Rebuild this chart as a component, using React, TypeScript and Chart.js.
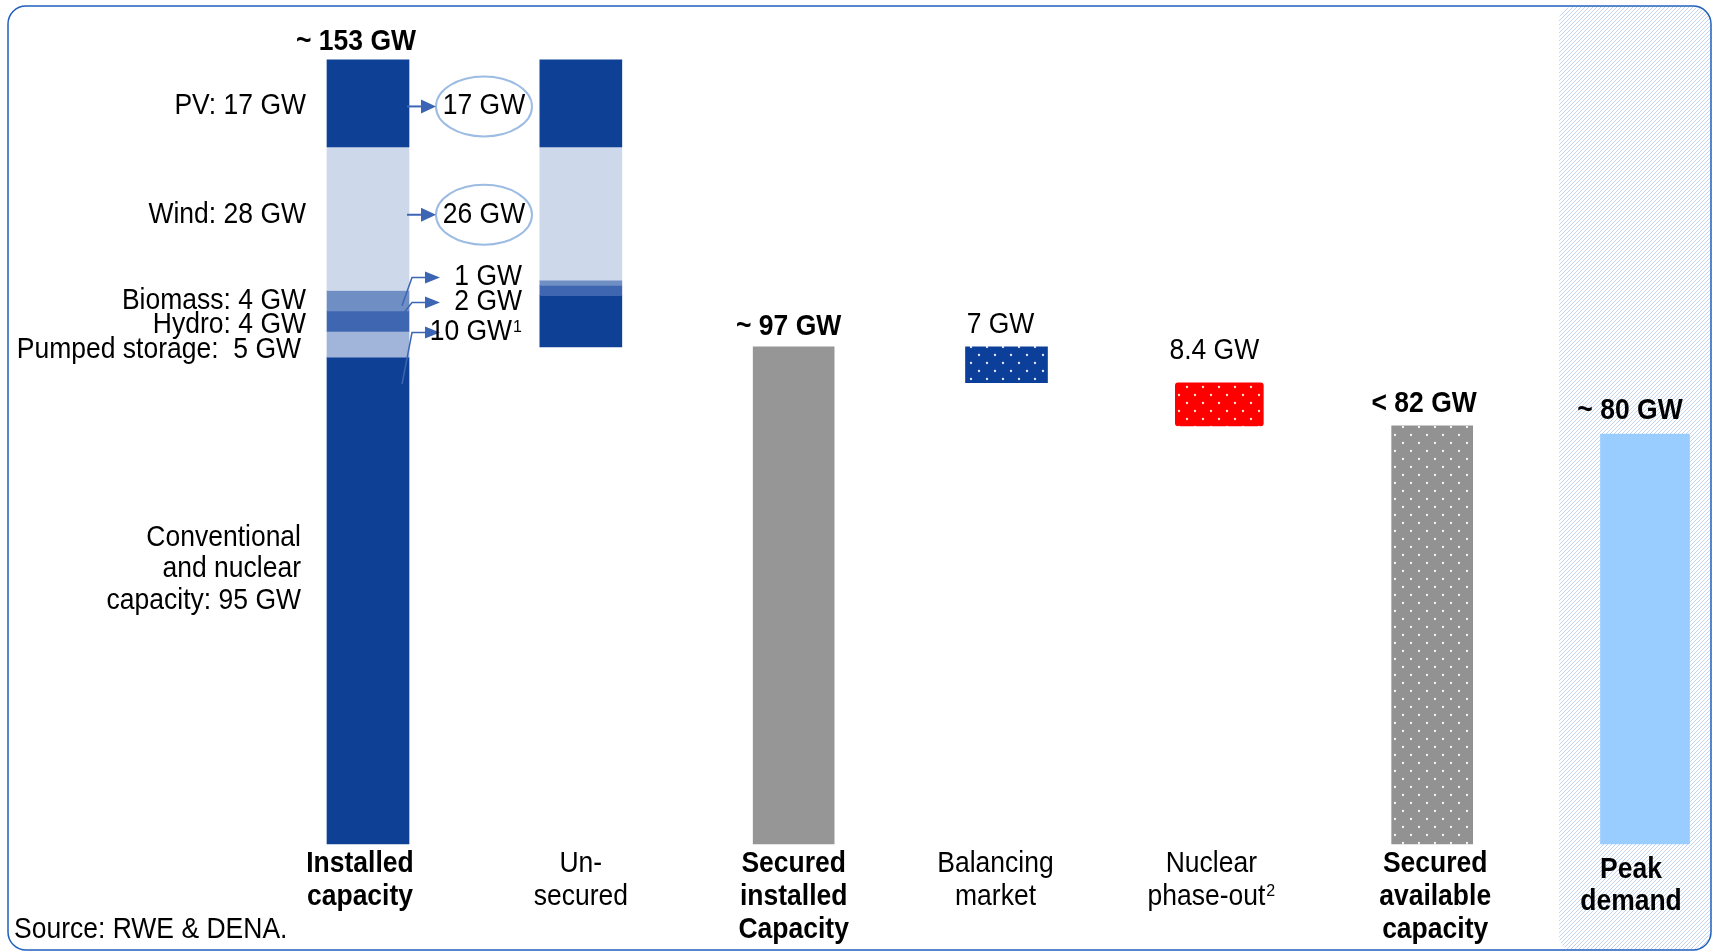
import React, { useEffect, useRef } from "react";
import { Chart, registerables } from "chart.js";

Chart.register(...registerables);

// ---------------- data ----------------
const categories = [
  "Installed capacity",
  "Un-secured",
  "Secured installed Capacity",
  "Balancing market",
  "Nuclear phase-out",
  "Secured available capacity",
  "Peak demand",
];
const categoryLines = [
  ["Installed", "capacity"],
  ["Un-", "secured"],
  ["Secured", "installed", "Capacity"],
  ["Balancing", "market"],
  ["Nuclear", "phase-out²"],
  ["Secured", "available", "capacity"],
  ["Peak", "demand"],
];
const categoryBold = [true, false, true, false, false, true, true];
const valueLabels = ["~ 153 GW", "", "~ 97 GW", "7 GW", "8.4 GW", "< 82 GW", "~ 80 GW"];
const valueBold = [true, false, true, false, false, true, true];

const sources = ["PV", "Wind", "Biomass", "Hydro", "Pumped storage", "Conventional and nuclear"];
const sourceLabelLines = [
  ["PV: 17 GW"],
  ["Wind: 28 GW"],
  ["Biomass: 4 GW"],
  ["Hydro: 4 GW"],
  ["Pumped storage:  5 GW"],
  ["Conventional", "and nuclear", "capacity: 95 GW"],
];
const installedGW = [17, 28, 4, 4, 5, 95];
const unsecuredGW = [17, 26, 1, 2, 0, 10];
const unsecuredLabels = ["17 GW", "26 GW", "1 GW", "2 GW", "", "10 GW¹"];
const securedInstalledGW = 97;
const balancingMarketGW = 7;
const nuclearPhaseOutGW = 8.4;
const securedAvailableGW = 81.6;
const peakDemandGW = 80;
const sourceNote = "Source: RWE & DENA.";

// ---------------- derived ranges ----------------
const installedTotal = installedGW.reduce((a, b) => a + b, 0);
function topDown(parts: number[], top: number): ([number, number] | null)[] {
  let cur = top;
  return parts.map((v) => {
    const r: [number, number] | null = v > 0 ? [cur - v, cur] : null;
    cur -= v;
    return r;
  });
}
const installedRanges = topDown(installedGW, installedTotal);
const unsecuredRanges = topDown(unsecuredGW, installedTotal);
const afterBalancing = securedInstalledGW - balancingMarketGW;

// ---------------- styles ----------------
const FONT = '"Liberation Sans", Arial, Helvetica, sans-serif';
const FS = 26.5;
const VSTRETCH = 1.08;
const sourceColors = ["#0e4096", "#cdd9ea", "#6f8fc4", "#3f66b0", "#a1b4da", "#0e4096"];
const ARROW = "#3c66b4";
const SUPERS: Record<string, string> = { "¹": "1", "²": "2" };

function dotPattern(color: string): CanvasPattern | string {
  const c = document.createElement("canvas");
  c.width = 16;
  c.height = 16;
  const g = c.getContext("2d");
  if (!g) return color;
  g.fillStyle = color;
  g.fillRect(0, 0, 16, 16);
  g.fillStyle = "rgba(255,255,255,0.92)";
  for (const [x, y] of [
    [3, 3],
    [11, 11],
  ]) {
    g.beginPath();
    g.arc(x, y, 1.15, 0, Math.PI * 2);
    g.fill();
  }
  return g.createPattern(c, "repeat") || color;
}

function hatchPattern(): CanvasPattern | string {
  const c = document.createElement("canvas");
  c.width = 4;
  c.height = 4;
  const g = c.getContext("2d");
  if (!g) return "#dde7f6";
  g.fillStyle = "#ffffff";
  g.fillRect(0, 0, 4, 4);
  g.strokeStyle = "rgba(110,150,220,0.42)";
  g.lineWidth = 1;
  for (const k of [-4, 0, 4]) {
    g.beginPath();
    g.moveTo(k, 4);
    g.lineTo(k + 4, 0);
    g.stroke();
  }
  return g.createPattern(c, "repeat") || "#dde7f6";
}

function roundRectPath(ctx: CanvasRenderingContext2D, x: number, y: number, w: number, h: number, r: number[]) {
  const [tl, tr, br, bl] = r;
  ctx.beginPath();
  ctx.moveTo(x + tl, y);
  ctx.lineTo(x + w - tr, y);
  ctx.arcTo(x + w, y, x + w, y + tr, tr);
  ctx.lineTo(x + w, y + h - br);
  ctx.arcTo(x + w, y + h, x + w - br, y + h, br);
  ctx.lineTo(x + bl, y + h);
  ctx.arcTo(x, y + h, x, y + h - bl, bl);
  ctx.lineTo(x, y + tl);
  ctx.arcTo(x, y, x + tl, y, tl);
  ctx.closePath();
}

function drawText(ctx: CanvasRenderingContext2D, s: string, x: number, y: number, bold: boolean, align: CanvasTextAlign) {
  // split off trailing superscript characters
  let main = s;
  let sup = "";
  while (main.length && SUPERS[main[main.length - 1]]) {
    sup = SUPERS[main[main.length - 1]] + sup;
    main = main.slice(0, -1);
  }
  const weight = bold ? "bold " : "";
  ctx.save();
  ctx.translate(x, y);
  ctx.scale(1, VSTRETCH);
  ctx.fillStyle = "#000000";
  ctx.textBaseline = "middle";
  ctx.font = `${weight}${FS}px ${FONT}`;
  const wMain = ctx.measureText(main).width;
  ctx.font = `${weight}${Math.round(FS * 0.62)}px ${FONT}`;
  const wSup = sup ? ctx.measureText(sup).width + 1 : 0;
  const total = wMain + wSup;
  let left = 0;
  if (align === "center") left = -total / 2;
  else if (align === "right") left = -total;
  ctx.textAlign = "left";
  ctx.font = `${weight}${FS}px ${FONT}`;
  ctx.fillText(main, left, 0);
  if (sup) {
    ctx.font = `${weight}${Math.round(FS * 0.62)}px ${FONT}`;
    ctx.fillText(sup, left + wMain + 1, -FS * 0.2);
  }
  ctx.restore();
}

function drawArrow(ctx: CanvasRenderingContext2D, pts: [number, number][], width: number, headLen: number, headHalf: number) {
  const tip = pts[pts.length - 1];
  const prev = pts[pts.length - 2];
  const ang = Math.atan2(tip[1] - prev[1], tip[0] - prev[0]);
  const baseX = tip[0] - headLen * Math.cos(ang);
  const baseY = tip[1] - headLen * Math.sin(ang);
  ctx.save();
  ctx.strokeStyle = ARROW;
  ctx.fillStyle = ARROW;
  ctx.lineWidth = width;
  ctx.beginPath();
  ctx.moveTo(pts[0][0], pts[0][1]);
  for (let i = 1; i < pts.length - 1; i++) ctx.lineTo(pts[i][0], pts[i][1]);
  ctx.lineTo(baseX, baseY);
  ctx.stroke();
  ctx.beginPath();
  ctx.moveTo(tip[0], tip[1]);
  ctx.lineTo(baseX - headHalf * Math.sin(ang), baseY + headHalf * Math.cos(ang));
  ctx.lineTo(baseX + headHalf * Math.sin(ang), baseY - headHalf * Math.cos(ang));
  ctx.closePath();
  ctx.fill();
  ctx.restore();
}

function at(i: number, v: [number, number] | null) {
  return categories.map((_, k) => (k === i ? v : null));
}

export default function App() {
  const ref = useRef<HTMLCanvasElement | null>(null);

  useEffect(() => {
    const canvas = ref.current;
    if (!canvas) return;
    const hatch = hatchPattern();

    const common = { grouped: false, clip: false as const, borderWidth: 0 };
    const datasets: any[] = sources.map((name, s) => ({
      label: name,
      data: categories.map((_, k) => (k === 0 ? installedRanges[s] : k === 1 ? unsecuredRanges[s] : null)),
      backgroundColor: sourceColors[s],
      barThickness: 82,
      ...common,
    }));
    datasets.push(
      {
        label: "Secured installed",
        data: at(2, [0, securedInstalledGW]),
        backgroundColor: "#969696",
        barThickness: 81,
        ...common,
      },
      {
        label: "Balancing market",
        data: at(3, [afterBalancing, securedInstalledGW]),
        backgroundColor: dotPattern("#0c3f9a"),
        barThickness: 82,
        ...common,
      },
      {
        label: "Nuclear phase-out",
        data: at(4, [afterBalancing - nuclearPhaseOutGW, afterBalancing]),
        backgroundColor: dotPattern("#ff0000"),
        barThickness: 88,
        borderRadius: 3,
        borderSkipped: false,
        ...common,
      },
      {
        label: "Secured available",
        data: at(5, [0, securedAvailableGW]),
        backgroundColor: dotPattern("#929292"),
        barThickness: 81,
        ...common,
      },
      {
        label: "Peak demand",
        data: at(6, [0, peakDemandGW]),
        backgroundColor: "#99ccff",
        barThickness: 89,
        ...common,
      }
    );

    const decor = {
      id: "decor",
      beforeDatasetsDraw(chart: any) {
        const ctx: CanvasRenderingContext2D = chart.ctx;
        ctx.save();
        roundRectPath(ctx, 1559, 7, 1711 - 1559, 950 - 7, [14, 18, 18, 14]);
        ctx.fillStyle = hatch as any;
        ctx.fill();
        ctx.restore();
        ctx.save();
        roundRectPath(ctx, 8, 6, 1711 - 8, 950 - 6, [18, 18, 18, 18]);
        ctx.strokeStyle = "#1f5fbd";
        ctx.lineWidth = 1.5;
        ctx.stroke();
        ctx.restore();
      },
      afterDatasetsDraw(chart: any) {
        const ctx: CanvasRenderingContext2D = chart.ctx;
        const xs = chart.scales.x;
        const ys = chart.scales.y;
        const cx = (i: number) => xs.getPixelForValue(i);
        const py = (v: number) => ys.getPixelForValue(v);

        // bar extents per category from the drawn elements
        const tops = categories.map(() => Infinity);
        const halfW = categories.map(() => 0);
        chart.data.datasets.forEach((ds: any, di: number) => {
          const meta = chart.getDatasetMeta(di);
          meta.data.forEach((el: any, i: number) => {
            if (ds.data[i] == null) return;
            const p = el.getProps(["y", "base", "width"], true);
            tops[i] = Math.min(tops[i], p.y, p.base);
            halfW[i] = Math.max(halfW[i], p.width / 2);
          });
        });

        // value labels above bars
        const gap = [18, 0, 20, 22, 32, 22, 23];
        const vdx = [-12, 0, -5, -6, -5, -8, -15];
        valueLabels.forEach((s, i) => {
          if (!s) return;
          drawText(ctx, s, cx(i) + vdx[i], tops[i] - gap[i], valueBold[i], "center");
        });

        // category labels below bars
        const cdx = [-8, 0, 0, -11, -8, 3, -14];
        categoryLines.forEach((lines, i) => {
          const y0 = py(0) + (i === 6 ? 26 : 20);
          const lh = i === 6 ? 32 : 33;
          lines.forEach((l, k) => drawText(ctx, l, cx(i) + cdx[i], y0 + k * lh, categoryBold[i], "center"));
        });

        // source labels left of installed bar
        const instLeft = cx(0) - halfW[0];
        const instRight = cx(0) + halfW[0];
        const sdy = [3, -4, 0, 4, 6, -31];
        const sdx = [0, 0, 0, 0, -5, -5];
        const labelY: number[] = [];
        sourceLabelLines.forEach((lines, s) => {
          const r = installedRanges[s];
          if (!r) return;
          const yc = (py(r[0]) + py(r[1])) / 2 + sdy[s];
          labelY[s] = yc;
          lines.forEach((l, k) =>
            drawText(ctx, l, instLeft - 21 + sdx[s], yc + (k - (lines.length - 1) / 2) * 31.5, false, "right")
          );
        });

        // unsecured annotations
        const ellCx = instRight + 75;
        [0, 1].forEach((s) => {
          const y = labelY[s];
          ctx.save();
          ctx.strokeStyle = "#9dbce3";
          ctx.lineWidth = 2;
          ctx.beginPath();
          ctx.ellipse(ellCx, y, 48, 30, 0, 0, Math.PI * 2);
          ctx.stroke();
          ctx.restore();
          drawArrow(ctx, [[instRight - 2, y], [ellCx - 48, y]], 2, 15, 7);
          drawText(ctx, unsecuredLabels[s], ellCx, y, false, "center");
        });
        const windBottom = py((installedRanges[1] as [number, number])[0]);
        const small = [
          { s: 2, ly: windBottom - 13, sy: (py(installedRanges[2]![0]) + py(installedRanges[2]![1])) / 2 + 5 },
          { s: 3, ly: windBottom + 12, sy: (py(installedRanges[3]![0]) + py(installedRanges[3]![1])) / 2 - 6 },
          { s: 5, ly: windBottom + 42, sy: py(installedRanges[5]![1]) + 27 },
        ];
        small.forEach(({ s, ly, sy }) => {
          drawArrow(ctx, [[instRight - 7, sy], [instRight + 3, ly], [instRight + 31, ly]], 1.5, 15, 6);
          drawText(ctx, unsecuredLabels[s], instRight + 113, ly, false, "right");
        });

        // source note
        drawText(ctx, sourceNote, 14, 930, false, "left");
      },
    };

    const chart = new Chart(canvas, {
      type: "bar",
      data: { labels: categories, datasets },
      options: {
        animation: false,
        responsive: false,
        devicePixelRatio: 1,
        layout: { padding: { left: 368, right: 1715 - 1645, top: 24, bottom: 952 - 844 } },
        plugins: { legend: { display: false }, tooltip: { enabled: false } },
        scales: {
          x: { type: "category", offset: false, display: false, grid: { display: false } },
          y: { type: "linear", min: 0, max: 160, display: false, grid: { display: false } },
        },
      },
      plugins: [decor],
    });
    return () => chart.destroy();
  }, []);

  return (
    <div style={{ position: "absolute", left: 0, top: 0, width: 1715, height: 952, background: "#ffffff" }}>
      <canvas ref={ref} width={1715} height={952} style={{ width: 1715, height: 952, display: "block" }} />
    </div>
  );
}
